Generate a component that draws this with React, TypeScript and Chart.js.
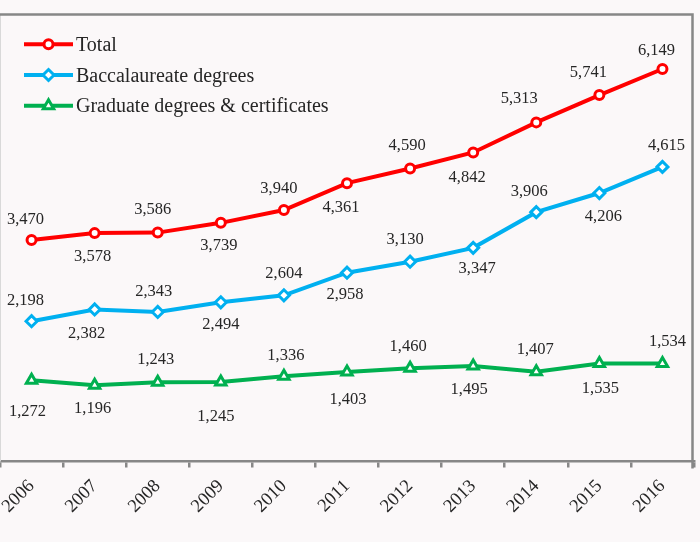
import React, { useEffect, useRef } from "react";
import { Chart, registerables } from "chart.js";

Chart.register(...registerables);

// ---------- data ----------
const years = ["2006", "2007", "2008", "2009", "2010", "2011", "2012", "2013", "2014", "2015", "2016"];
const total = [3470, 3578, 3586, 3739, 3940, 4361, 4590, 4842, 5313, 5741, 6149];
const baccalaureate = [2198, 2382, 2343, 2494, 2604, 2958, 3130, 3347, 3906, 4206, 4615];
const graduate = [1272, 1196, 1243, 1245, 1336, 1403, 1460, 1495, 1407, 1535, 1534];
const seriesNames = ["Total", "Baccalaureate degrees", "Graduate degrees & certificates"];
const yMin = 0;
const yMax = 7000;

// ---------- label placement (px offsets from each point) ----------
const totalLabelDx = [-6, -2, -5, -2, -5, -6, -3, -6, -17, -11, -6];
const totalLabelDy = [-22, 22, -24, 22, -23, 23, -24, 24, -25, -24, -20];
const baccLabelDx = [-6, -8, -4, 0, 0, -2, -5, 4, -7, 4, 4];
const baccLabelDy = [-22, 23, -21, 21, -23, 21, -23, 20, -22, 22, -22];
const gradLabelDx = [-4, -2, -2, -5, 2, 1, -2, -4, -1, 1, 5];
const gradLabelDy = [30, 22, -24, 33, -22, 27, -23, 22, -23, 24, -23];

// ---------- style ----------
const FONT = '"Liberation Serif", "Times New Roman", serif';
const TEXT = "#262626";
const BG = "#FBF8F9";
const AXIS = "#878787";
const RED = "#FF0000";
const BLUE = "#00B0F0";
const GREEN = "#00B050";

const fmt = (v: number) => String(v).replace(/\B(?=(\d{3})+(?!\d))/g, ",");

const labelDx = [totalLabelDx, baccLabelDx, gradLabelDx];
const labelDy = [totalLabelDy, baccLabelDy, gradLabelDy];

const bgPlugin = {
  id: "bgFill",
  beforeDraw(chart: any) {
    const ctx = chart.ctx;
    ctx.save();
    ctx.fillStyle = BG;
    ctx.fillRect(0, 0, chart.width, chart.height);
    ctx.restore();
  },
};

const framePlugin = {
  id: "frame",
  beforeDatasetsDraw(chart: any) {
    const { ctx, chartArea } = chart;
    ctx.save();
    ctx.strokeStyle = "#D9D9D9";
    ctx.lineWidth = 1;
    ctx.beginPath();
    ctx.moveTo(chartArea.left + 0.5, chartArea.top);
    ctx.lineTo(chartArea.left + 0.5, chartArea.bottom);
    ctx.stroke();
    ctx.strokeStyle = AXIS;
    ctx.lineWidth = 2.5;
    const t = Math.round(chartArea.top) - 0.5;
    const r = chartArea.right - 1.5;
    ctx.beginPath();
    ctx.moveTo(0, t);
    ctx.lineTo(r, t);
    ctx.lineTo(r, chartArea.bottom + 7);
    ctx.stroke();
    ctx.restore();
  },
};

function drawMarker(ctx: CanvasRenderingContext2D, style: string, x: number, y: number, r: number) {
  ctx.beginPath();
  if (style === "circle") {
    ctx.arc(x, y, r, 0, Math.PI * 2);
  } else if (style === "rectRot") {
    ctx.moveTo(x, y - r);
    ctx.lineTo(x + r, y);
    ctx.lineTo(x, y + r);
    ctx.lineTo(x - r, y);
    ctx.closePath();
  } else {
    const w = (r * Math.sqrt(3)) / 2;
    ctx.moveTo(x, y - r);
    ctx.lineTo(x + w, y + r / 2);
    ctx.lineTo(x - w, y + r / 2);
    ctx.closePath();
  }
  ctx.fill();
  ctx.stroke();
}

const legendPlugin = {
  id: "customLegend",
  afterDraw(chart: any) {
    const { ctx, chartArea } = chart;
    ctx.save();
    chart.data.datasets.forEach((ds: any, i: number) => {
      const cy = chartArea.top + 29.5 + i * 30.8;
      const x0 = chartArea.left + 24;
      const x1 = chartArea.left + 73;
      ctx.strokeStyle = ds.borderColor;
      ctx.lineWidth = 4;
      ctx.lineCap = "butt";
      ctx.beginPath();
      ctx.moveTo(x0, cy);
      ctx.lineTo(x1, cy);
      ctx.stroke();
      ctx.fillStyle = "#FFFFFF";
      ctx.lineWidth = ds.pointBorderWidth;
      drawMarker(ctx, ds.pointStyle, (x0 + x1) / 2, cy, ds.pointRadius);
      ctx.fillStyle = TEXT;
      ctx.font = `20px ${FONT}`;
      ctx.textAlign = "left";
      ctx.textBaseline = "alphabetic";
      ctx.fillText(ds.label, chartArea.left + 76, cy + 6.5);
    });
    ctx.restore();
  },
};

const dataLabelPlugin = {
  id: "dataLabels",
  afterDatasetsDraw(chart: any) {
    const ctx = chart.ctx;
    ctx.save();
    ctx.font = `16.5px ${FONT}`;
    ctx.fillStyle = TEXT;
    ctx.textAlign = "center";
    ctx.textBaseline = "alphabetic";
    chart.data.datasets.forEach((ds: any, di: number) => {
      const meta = chart.getDatasetMeta(di);
      meta.data.forEach((pt: any, i: number) => {
        const v = ds.data[i] as number;
        ctx.fillText(fmt(v), pt.x + labelDx[di][i], pt.y + labelDy[di][i] + 5.5);
      });
    });
    ctx.restore();
  },
};

export default function App() {
  const ref = useRef<HTMLCanvasElement | null>(null);

  useEffect(() => {
    document.body.style.margin = "0";
    document.body.style.background = BG;
    const canvas = ref.current;
    if (!canvas) return;
    const mk = (label: string, data: number[], color: string, pointStyle: string, radius: number) => ({
      label,
      data,
      borderColor: color,
      backgroundColor: color,
      borderWidth: 4,
      pointStyle,
      pointRadius: radius,
      pointBorderWidth: 3,
      pointBackgroundColor: "#FFFFFF",
      pointBorderColor: color,
      tension: 0,
      fill: false,
    });
    const chart = new Chart(canvas, {
      type: "line",
      data: {
        labels: years,
        datasets: [
          mk(seriesNames[0], total, RED, "circle", 4.5),
          mk(seriesNames[1], baccalaureate, BLUE, "rectRot", 5.5),
          mk(seriesNames[2], graduate, GREEN, "triangle", 6),
        ] as any,
      },
      options: {
        animation: false,
        responsive: false,
        devicePixelRatio: 1,
        layout: { padding: { left: 0, right: 6, top: 14.7, bottom: 0 }, autoPadding: false } as any,
        plugins: {
          legend: { display: false },
          tooltip: { enabled: false },
        },
        scales: {
          x: {
            type: "category",
            offset: true,
            grid: {
              offset: true,
              drawOnChartArea: false,
              drawTicks: true,
              tickLength: 6,
              color: AXIS,
              lineWidth: 2.5,
            },
            border: { display: true, color: AXIS, width: 2.5 },
            ticks: {
              minRotation: 45,
              maxRotation: 45,
              autoSkip: false,
              padding: 8,
              color: TEXT,
              font: { family: FONT, size: 18.5 },
            },
            afterFit: (s: any) => {
              s.height = 80.5;
              s.paddingLeft = 0;
              s.paddingRight = 0;
            },
          },
          y: {
            display: false,
            min: yMin,
            max: yMax,
          },
        },
      } as any,
      plugins: [bgPlugin, framePlugin, dataLabelPlugin, legendPlugin],
    });
    return () => chart.destroy();
  }, []);

  return (
    <div style={{ position: "fixed", left: 0, top: 0, width: 700, height: 542, background: BG }}>
      <canvas ref={ref} width={700} height={542} style={{ display: "block" }} />
    </div>
  );
}
